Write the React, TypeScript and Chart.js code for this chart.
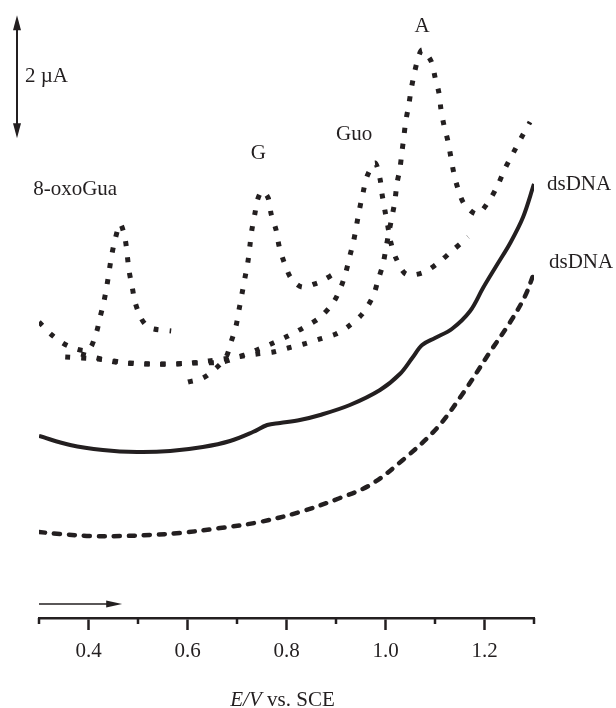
import React, { useEffect, useRef } from 'react';
import { Chart, registerables } from 'chart.js';

Chart.register(...registerables);

// ---- data (E / V vs SCE, I / µA) ----
const OXO_E = [0.300, 0.326, 0.359, 0.399, 0.415, 0.423, 0.431, 0.437, 0.447, 0.454, 0.464, 0.474, 0.482, 0.488, 0.494, 0.506, 0.518, 0.532, 0.567];
const OXO_I = [4.813, 4.602, 4.423, 4.358, 4.618, 4.878, 5.138, 5.398, 5.902, 6.163, 6.407, 6.163, 5.642, 5.398, 5.138, 4.878, 4.748, 4.699, 4.667];

const G_E = [0.601, 0.631, 0.658, 0.678, 0.688, 0.698, 0.704, 0.710, 0.716, 0.722, 0.726, 0.730, 0.736, 0.742, 0.751, 0.763, 0.769, 0.779, 0.785, 0.795, 0.809, 0.831, 0.862, 0.878, 0.892];
const G_I = [3.837, 3.902, 4.065, 4.244, 4.488, 4.748, 5.008, 5.268, 5.528, 5.789, 6.049, 6.309, 6.569, 6.813, 6.943, 6.829, 6.569, 6.309, 6.049, 5.789, 5.528, 5.382, 5.447, 5.512, 5.577];

const GUO_E = [0.353, 0.419, 0.484, 0.548, 0.611, 0.670, 0.708, 0.740, 0.773, 0.803, 0.833, 0.866, 0.894, 0.910, 0.920, 0.928, 0.936, 0.942, 0.948, 0.955, 0.963, 0.979, 0.989, 0.993, 0.999, 1.005, 1.011, 1.021, 1.041, 1.074, 1.106, 1.134, 1.167];
const GUO_I = [4.244, 4.211, 4.146, 4.130, 4.146, 4.163, 4.260, 4.358, 4.472, 4.585, 4.715, 4.878, 5.122, 5.382, 5.626, 5.886, 6.146, 6.407, 6.667, 6.927, 7.187, 7.398, 7.138, 6.894, 6.618, 6.358, 6.098, 5.854, 5.593, 5.610, 5.772, 5.967, 6.195];

const A_E = [0.385, 0.454, 0.516, 0.581, 0.643, 0.740, 0.773, 0.803, 0.835, 0.868, 0.900, 0.926, 0.953, 0.975, 0.985, 0.995, 1.001, 1.007, 1.013, 1.019, 1.023, 1.029, 1.033, 1.037, 1.041, 1.047, 1.052, 1.058, 1.066, 1.074, 1.092, 1.100, 1.108, 1.112, 1.118, 1.126, 1.132, 1.138, 1.146, 1.159, 1.185, 1.209, 1.227, 1.241, 1.258, 1.274, 1.292];
const A_I = [4.293, 4.163, 4.130, 4.130, 4.179, 4.293, 4.325, 4.390, 4.455, 4.537, 4.618, 4.748, 4.943, 5.236, 5.496, 5.756, 6.016, 6.276, 6.520, 6.780, 7.057, 7.301, 7.561, 7.821, 8.081, 8.341, 8.602, 8.846, 9.106, 9.236, 9.057, 8.797, 8.537, 8.276, 8.016, 7.756, 7.496, 7.236, 6.992, 6.732, 6.569, 6.780, 7.041, 7.301, 7.561, 7.805, 8.065];

const DS_SOLID_E = [0.300, 0.363, 0.429, 0.498, 0.565, 0.631, 0.686, 0.732, 0.761, 0.787, 0.827, 0.868, 0.928, 0.989, 1.029, 1.054, 1.074, 1.100, 1.134, 1.171, 1.197, 1.225, 1.252, 1.278, 1.300];
const DS_SOLID_I = [2.959, 2.813, 2.732, 2.699, 2.715, 2.780, 2.878, 3.024, 3.138, 3.171, 3.220, 3.301, 3.463, 3.707, 3.967, 4.228, 4.439, 4.553, 4.699, 4.992, 5.366, 5.740, 6.098, 6.520, 7.057];

const DS_DASH_E = [0.300, 0.342, 0.403, 0.464, 0.524, 0.585, 0.666, 0.746, 0.827, 0.908, 0.969, 1.035, 1.104, 1.157, 1.211, 1.252, 1.282, 1.300];
const DS_DASH_I = [1.398, 1.366, 1.333, 1.333, 1.350, 1.382, 1.463, 1.561, 1.724, 1.951, 2.163, 2.569, 3.089, 3.659, 4.325, 4.813, 5.236, 5.610];

const TICK_LABELS = ['0.4', '0.6', '0.8', '1.0', '1.2'];
const MINOR_TICKS = [0.3, 0.5, 0.7, 0.9, 1.1, 1.3];
const PEAK_NAMES = ['8-oxoGua', 'G', 'Guo', 'A'];
const CURVE_NAME = 'dsDNA';
const SCALE_BAR_UA = 2;
const SCALE_BAR_TOP_UA = 9.8;
const SWEEP_FROM = 0.3;
const SWEEP_TO = 0.468;
const X_MIN = 0.3;
const X_MAX = 1.3;
const Y_MIN = 0;
const Y_MAX = 10;

const INK = '#231f20';
const FONT = '"Liberation Serif", "Times New Roman", Times, serif';

const pts = (xs: number[], ys: number[]) => xs.map((x, i) => ({ x, y: ys[i] }));

const dotted = (data: { x: number; y: number }[]) => ({
  data,
  borderColor: INK,
  borderWidth: 5,
  borderDash: [5, 11],
  borderCapStyle: 'butt' as const,
  pointRadius: 0,
  tension: 0.3,
  fill: false,
});

function peakOf(data: { x: number; y: number }[]) {
  let best = data[0];
  for (const p of data) if (p.y > best.y) best = p;
  return best;
}

const annotPlugin = {
  id: 'annot',
  afterDraw(chart: any) {
    const { ctx, chartArea, scales } = chart;
    const x = scales.x;
    const y = scales.y;
    const ds = chart.data.datasets;
    ctx.save();
    ctx.fillStyle = INK;
    ctx.strokeStyle = INK;

    // minor ticks
    ctx.lineWidth = 2.5;
    for (const v of MINOR_TICKS) {
      const px = Math.round(x.getPixelForValue(v));
      ctx.beginPath();
      ctx.moveTo(px, chartArea.bottom);
      ctx.lineTo(px, chartArea.bottom + 6);
      ctx.stroke();
    }

    // sweep arrow above axis
    const ay = chartArea.bottom - 14;
    const ax0 = x.getPixelForValue(SWEEP_FROM);
    const ax1 = x.getPixelForValue(SWEEP_TO);
    ctx.lineWidth = 1.6;
    ctx.beginPath();
    ctx.moveTo(ax0, ay);
    ctx.lineTo(ax1 - 12, ay);
    ctx.stroke();
    ctx.beginPath();
    ctx.moveTo(ax1, ay);
    ctx.lineTo(ax1 - 16, ay - 3.5);
    ctx.lineTo(ax1 - 16, ay + 3.5);
    ctx.closePath();
    ctx.fill();

    // scale bar (2 µA)
    const sx = chartArea.left - 22;
    const sy0 = y.getPixelForValue(SCALE_BAR_TOP_UA);
    const sy1 = y.getPixelForValue(SCALE_BAR_TOP_UA - SCALE_BAR_UA);
    ctx.lineWidth = 2;
    ctx.beginPath();
    ctx.moveTo(sx, sy0 + 10);
    ctx.lineTo(sx, sy1 - 10);
    ctx.stroke();
    ctx.beginPath();
    ctx.moveTo(sx, sy0);
    ctx.lineTo(sx - 4, sy0 + 15);
    ctx.lineTo(sx + 4, sy0 + 15);
    ctx.closePath();
    ctx.fill();
    ctx.beginPath();
    ctx.moveTo(sx, sy1);
    ctx.lineTo(sx - 4, sy1 - 15);
    ctx.lineTo(sx + 4, sy1 - 15);
    ctx.closePath();
    ctx.fill();
    ctx.font = `21px ${FONT}`;
    ctx.textAlign = 'left';
    ctx.textBaseline = 'middle';
    ctx.fillText(`${SCALE_BAR_UA} \u00b5A`, sx + 8, (sy0 + sy1) / 2);

    // peak labels
    const offsets = [
      [-45, -34],
      [-4, -38],
      [-21, -29],
      [0, -24],
    ];
    ctx.textAlign = 'center';
    PEAK_NAMES.forEach((name, i) => {
      const p = peakOf(ds[i].data);
      ctx.fillText(name, x.getPixelForValue(p.x) + offsets[i][0], y.getPixelForValue(p.y) + offsets[i][1]);
    });

    // dsDNA labels
    ctx.textAlign = 'left';
    const solid = ds[4].data;
    const dash = ds[5].data;
    const s = solid[solid.length - 1];
    const d = dash[dash.length - 1];
    ctx.fillText(CURVE_NAME, x.getPixelForValue(s.x) + 13, y.getPixelForValue(s.y));
    ctx.fillText(CURVE_NAME, x.getPixelForValue(d.x) + 15, y.getPixelForValue(d.y) - 11);

    // axis title: E/V vs. SCE
    const tx = (x.left + x.right) / 2 - 4;
    const ty = x.bottom - 8;
    const ital = `italic 21px ${FONT}`;
    const norm = `21px ${FONT}`;
    ctx.font = ital;
    const w1 = ctx.measureText('E/V').width;
    ctx.font = norm;
    const w2 = ctx.measureText(' vs. SCE').width;
    const start = tx - (w1 + w2) / 2;
    ctx.textAlign = 'left';
    ctx.font = ital;
    ctx.fillText('E/V', start, ty);
    ctx.font = norm;
    ctx.fillText(' vs. SCE', start + w1, ty);

    ctx.restore();
  },
};

export default function App() {
  const ref = useRef<HTMLCanvasElement | null>(null);

  useEffect(() => {
    if (!ref.current) return;
    const chart = new Chart(ref.current, {
      type: 'line',
      data: {
        datasets: [
          dotted(pts(OXO_E, OXO_I)),
          dotted(pts(G_E, G_I)),
          dotted(pts(GUO_E, GUO_I)),
          dotted(pts(A_E, A_I)),
          {
            data: pts(DS_SOLID_E, DS_SOLID_I),
            borderColor: INK,
            borderWidth: 4,
            pointRadius: 0,
            tension: 0.35,
            fill: false,
          },
          {
            data: pts(DS_DASH_E, DS_DASH_I),
            borderColor: INK,
            borderWidth: 4.5,
            borderDash: [6, 9],
            borderCapStyle: 'round' as const,
            pointRadius: 0,
            tension: 0.35,
            fill: false,
          },
        ],
      },
      options: {
        responsive: false,
        animation: false,
        devicePixelRatio: 1,
        layout: { padding: { left: 39, right: 82, top: 3, bottom: 0 } },
        plugins: { legend: { display: false }, tooltip: { enabled: false }, title: { display: false } },
        scales: {
          x: {
            type: 'linear',
            min: X_MIN,
            max: X_MAX,
            afterFit: (scale: any) => {
              scale.height = 90;
            },
            border: { display: true, color: INK, width: 2.5 },
            grid: {
              display: true,
              drawOnChartArea: false,
              drawTicks: true,
              tickLength: 12,
              tickWidth: 2.5,
              tickColor: (c: any) =>
                c.tick && TICK_LABELS.includes(Number(c.tick.value).toFixed(1)) ? INK : 'rgba(0,0,0,0)',
            },
            ticks: {
              stepSize: 0.1,
              autoSkip: false,
              maxRotation: 0,
              padding: 9,
              color: INK,
              font: { family: FONT, size: 21 },
              callback: (v: any) => {
                const s = Number(v).toFixed(1);
                return TICK_LABELS.includes(s) ? s : '';
              },
            },
          },
          y: {
            type: 'linear',
            display: false,
            min: Y_MIN,
            max: Y_MAX,
          },
        },
      },
      plugins: [annotPlugin],
    });
    return () => chart.destroy();
  }, []);

  return (
    <div style={{ position: 'absolute', left: 0, top: 0, width: 616, height: 708, background: '#fff' }}>
      <canvas ref={ref} width={616} height={708} style={{ display: 'block' }} />
    </div>
  );
}
